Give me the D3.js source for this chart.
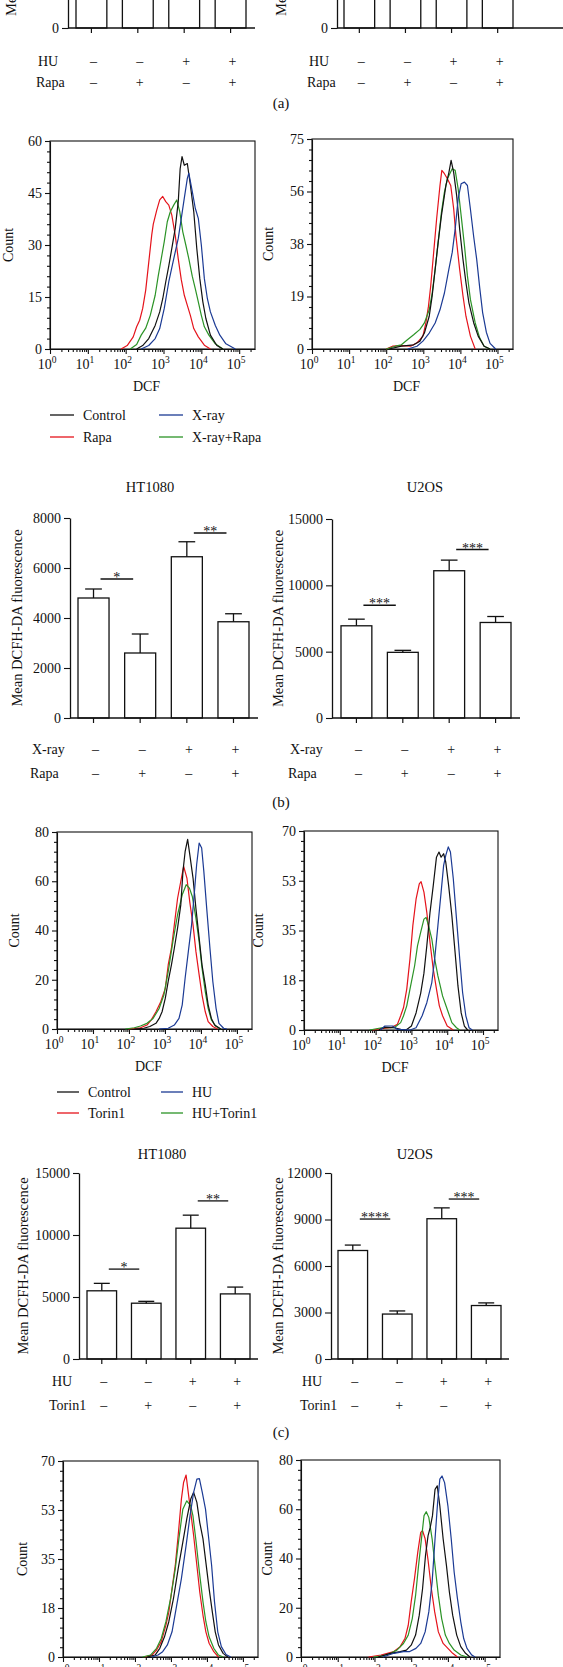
<!DOCTYPE html>
<html><head><meta charset="utf-8">
<script src="https://cdn.jsdelivr.net/npm/d3@7/dist/d3.min.js"></script>
<style>
body{margin:0;background:#fff;}
svg{display:block;}
text{font-family:"Liberation Serif","Times New Roman",serif;fill:#111;}
</style></head><body>
<svg id="fig" width="563" height="1667"></svg>
<script>
// ---------------- DATA ----------------
const categories = ["g1","g2","g3","g4"];
const signsA1 = ["–","–","+","+"];   // HU / X-ray rows
const signsA2 = ["–","+","–","+"];   // Rapa / Torin1 rows

// (a) bar charts (tops cropped off in the reference)
const aHT_mean = [4500, 2800, 6200, 3600];
const aU2_mean = [7000, 4800, 11000, 7000];

// (b) bar charts
const bHT_mean = [4800, 2600, 6450, 3850];
const bHT_err  = [360, 760, 600, 320];
const bU2_mean = [6950, 4950, 11100, 7200];
const bU2_err  = [500, 150, 800, 450];
const bHT_sig  = [[0,1,5560,"*"],[2,3,7400,"**"]];
const bU2_sig  = [[0,1,8500,"***"],[2,3,12700,"***"]];

// (c) bar charts
const cHT_mean = [5500, 4500, 10550, 5250];
const cHT_err  = [600, 150, 1050, 550];
const cU2_mean = [7000, 2900, 9050, 3450];
const cU2_err  = [350, 200, 700, 170];
const cHT_sig  = [[0,1,7250,"*"],[2,3,12750,"**"]];
const cU2_sig  = [[0,1,9030,"****"],[2,3,10320,"***"]];

// legends
const legendB = ["Control","Rapa","X-ray","X-ray+Rapa"];
const legendC = ["Control","Torin1","HU","HU+Torin1"];

// histograms: [log10(DCF), count]
const bL_red = [[1.88,0],[2.04,1],[2.2,3.5],[2.29,6.4],[2.37,8.3],[2.45,11.7],[2.53,17],[2.61,25],[2.69,33],[2.73,36],[2.82,40],[2.9,43],[2.98,44],[3.06,42.5],[3.14,41.5],[3.22,38.6],[3.31,32.8],[3.39,26],[3.47,20],[3.55,15.5],[3.63,12.6],[3.71,9.7],[3.8,5.9],[3.92,3.5],[4.08,1.1],[4.24,0]];
const bL_green = [[2.12,0],[2.29,1.3],[2.41,4],[2.53,6],[2.65,9.7],[2.78,15.5],[2.86,21],[2.94,26],[3.02,31],[3.1,36.7],[3.18,39.6],[3.27,41.5],[3.35,43],[3.43,39.6],[3.51,33.8],[3.59,30],[3.67,26],[3.76,21],[3.84,17.4],[3.92,13.6],[4.0,9.7],[4.08,6.4],[4.2,4],[4.37,1.5],[4.57,0]];
const bL_black = [[2.29,0],[2.45,1],[2.61,3],[2.78,6.8],[2.9,10.7],[2.98,14.5],[3.06,19.4],[3.14,24],[3.22,29],[3.31,34.8],[3.39,42.5],[3.44,52],[3.49,55.5],[3.55,53],[3.63,53.5],[3.71,47.3],[3.8,39.6],[3.88,29],[3.96,20.3],[4.04,13.6],[4.12,8.8],[4.24,4],[4.41,1],[4.57,0]];
const bL_blue = [[2.41,0],[2.61,1],[2.78,3],[2.9,5.9],[3.02,11.7],[3.14,19.4],[3.27,26],[3.39,31.9],[3.47,37.7],[3.55,43.5],[3.63,49.2],[3.67,50.7],[3.76,45.5],[3.84,40.6],[3.92,37.7],[4.0,30],[4.08,20.3],[4.16,14.5],[4.24,10.7],[4.37,6.8],[4.49,4],[4.65,1.5],[4.9,0]];

const bR_red = [[2.0,0],[2.17,1],[2.41,1.2],[2.66,1],[2.83,2.2],[2.99,4.6],[3.07,9.3],[3.14,15.3],[3.2,22.5],[3.28,34.5],[3.36,46.5],[3.45,58.4],[3.5,63.8],[3.57,62.6],[3.65,60.8],[3.74,58.4],[3.82,50],[3.88,40.5],[3.98,28.5],[4.07,19],[4.15,11.7],[4.27,4.6],[4.4,0]];
const bR_green = [[2.0,0],[2.25,1],[2.41,1.5],[2.58,3.4],[2.74,5.1],[2.91,7],[3.03,9.3],[3.16,14],[3.24,20],[3.32,28.5],[3.4,38],[3.49,48.9],[3.57,56],[3.65,60.8],[3.78,64.4],[3.86,63.8],[3.94,57.2],[4.02,47.7],[4.11,36.9],[4.19,26.1],[4.27,17.7],[4.4,9.3],[4.52,4],[4.64,1],[4.8,0]];
const bR_black = [[2.08,0],[2.41,1],[2.74,1.5],[2.91,2.8],[3.03,5.7],[3.16,11.7],[3.24,19],[3.32,28.5],[3.4,38],[3.49,47.7],[3.61,58.4],[3.69,63],[3.75,67.4],[3.82,63],[3.9,54.8],[3.98,42.9],[4.07,32],[4.15,23.7],[4.23,16.5],[4.36,9.3],[4.48,4.6],[4.64,1],[4.8,0]];
const bR_blue = [[2.58,0],[2.83,1],[2.99,2.8],[3.16,5.7],[3.32,9.3],[3.45,14],[3.57,20],[3.69,28.5],[3.78,34.5],[3.86,42.9],[3.94,53.7],[4.02,59],[4.11,59.6],[4.19,58.4],[4.27,50],[4.36,40],[4.44,32],[4.52,22],[4.6,13],[4.7,6],[4.8,2],[4.95,0]];

const cL_red = [[1.98,0],[2.32,0.5],[2.5,1.6],[2.62,3.7],[2.75,7],[2.88,11],[3.01,16.5],[3.09,26],[3.18,32.8],[3.26,42.3],[3.35,53],[3.44,60],[3.52,66],[3.61,61.3],[3.69,51.5],[3.78,42.3],[3.86,31.5],[3.95,22],[4.03,13.8],[4.12,7],[4.2,3],[4.33,1],[4.46,0]];
const cL_green = [[1.9,0],[2.15,0.5],[2.32,1.2],[2.5,2.3],[2.67,4.3],[2.84,8.4],[2.97,13.8],[3.09,23.3],[3.22,35.5],[3.35,46.4],[3.48,54.5],[3.59,58.6],[3.68,57.2],[3.76,53.8],[3.86,45],[3.95,35.5],[4.03,24.7],[4.12,15.2],[4.2,8.4],[4.29,3.7],[4.42,1],[4.55,0]];
const cL_black = [[2.15,0],[2.41,0.3],[2.58,1],[2.75,2.3],[2.84,4.3],[2.92,7],[3.01,12.5],[3.09,19.3],[3.18,26],[3.26,32.8],[3.35,41],[3.44,50.4],[3.5,64],[3.56,72],[3.63,77],[3.69,70.8],[3.78,61.3],[3.86,49],[3.95,36.9],[4.03,26],[4.12,17.9],[4.2,9.8],[4.29,4.3],[4.38,1.6],[4.55,0]];
const cL_blue = [[2.84,0],[3.09,0.3],[3.26,1.6],[3.39,4.3],[3.48,9.8],[3.56,20.6],[3.65,31.5],[3.74,42.3],[3.82,55.9],[3.88,66.7],[3.95,75.5],[4.02,73.5],[4.08,64],[4.16,49],[4.25,32.8],[4.33,19.3],[4.42,8.4],[4.5,2.3],[4.63,0.3],[4.72,0]];

const cR_red = [[1.91,0],[2.17,0.5],[2.43,0.8],[2.61,2],[2.7,5],[2.78,7.9],[2.87,14.4],[2.96,25],[3.04,36.7],[3.13,46],[3.22,51.4],[3.27,52.2],[3.35,48.5],[3.43,41.4],[3.52,30.8],[3.61,21.4],[3.7,14.4],[3.78,8.5],[3.87,5],[4.0,1.4],[4.17,0]];
const cR_green = [[1.83,0],[2.17,0.8],[2.52,0.8],[2.7,2.6],[2.78,5],[2.87,8.5],[2.96,14.4],[3.09,22.6],[3.17,29.6],[3.26,34.4],[3.35,39],[3.41,39.6],[3.48,36.7],[3.57,32],[3.65,25],[3.74,19],[3.87,12],[4.0,7.3],[4.13,2.6],[4.26,0.8],[4.35,0]];
const cR_black = [[2.09,0],[2.26,1],[2.52,0.8],[2.7,0.2],[2.85,0],[3.0,1.4],[3.13,6],[3.26,13],[3.35,20],[3.43,29.6],[3.52,41.4],[3.61,50.8],[3.7,60.8],[3.77,62.6],[3.83,60.8],[3.9,62],[3.96,59],[4.04,50.8],[4.13,40.2],[4.22,27.3],[4.3,15.5],[4.39,6],[4.48,1.4],[4.57,0]];
const cR_blue = [[2.13,0],[2.26,1.4],[2.48,1.4],[2.61,0.2],[2.96,0],[3.13,0.8],[3.3,5],[3.43,9.6],[3.57,16.7],[3.65,25],[3.74,36.7],[3.83,48.5],[3.9,57.9],[3.96,61.4],[4.03,64.4],[4.09,62.6],[4.17,53.2],[4.26,39],[4.35,25],[4.43,13.2],[4.52,5],[4.61,0.8],[4.7,0]];

const dL_red = [[2.26,0],[2.47,0.7],[2.6,2.5],[2.73,5.5],[2.86,11.4],[2.94,16],[3.03,24.4],[3.12,32.7],[3.2,43.4],[3.29,56.4],[3.35,62.3],[3.42,65],[3.48,58.8],[3.55,51.7],[3.63,43.4],[3.72,32.7],[3.8,23.2],[3.89,14.9],[3.97,9],[4.06,4.9],[4.19,1.9],[4.32,0]];
const dL_green = [[2.21,0],[2.43,0.7],[2.6,3.1],[2.73,6.6],[2.86,12.6],[2.99,20.9],[3.12,31.5],[3.22,42.2],[3.33,52.8],[3.44,55.8],[3.55,54],[3.61,50.5],[3.7,41],[3.79,30.3],[3.89,19.7],[3.97,12.6],[4.06,7.2],[4.19,3.1],[4.32,0.7],[4.45,0]];
const dL_black = [[2.34,0],[2.56,0.7],[2.69,3.1],[2.82,7.2],[2.94,12.6],[3.07,20.9],[3.2,31.5],[3.33,41],[3.44,49.3],[3.55,56.4],[3.63,58.8],[3.72,55.2],[3.8,48],[3.89,42.2],[3.97,33.8],[4.06,24.4],[4.15,16],[4.23,9],[4.32,4.3],[4.45,1.3],[4.58,0]];
const dL_blue = [[2.47,0],[2.64,0.7],[2.77,1.9],[2.9,4.3],[3.03,9],[3.16,18.5],[3.29,28],[3.42,39.8],[3.53,50.5],[3.63,58.8],[3.72,63.5],[3.79,63.7],[3.87,58.8],[3.96,52.8],[4.04,43.4],[4.13,32.7],[4.21,19.7],[4.3,9],[4.4,3.7],[4.53,0.9],[4.66,0]];

const dR_red = [[1.84,0],[2.18,0.8],[2.35,1.5],[2.53,2.2],[2.7,4.2],[2.83,7.5],[2.92,12.9],[3.0,22.4],[3.09,31.8],[3.18,42.6],[3.26,50.6],[3.31,51.3],[3.38,48],[3.46,39.3],[3.55,27.7],[3.64,18.3],[3.74,10.2],[3.87,5.5],[4.0,3.5],[4.13,1.5],[4.26,0]];
const dR_green = [[1.97,0],[2.23,0.5],[2.44,1.5],[2.61,2.8],[2.79,5.5],[2.92,8.9],[3.03,15.6],[3.12,25],[3.2,37],[3.29,49.3],[3.35,57.4],[3.41,59],[3.48,56.7],[3.57,48],[3.65,37],[3.74,25],[3.83,15.6],[3.93,8.9],[4.04,5.5],[4.17,2.8],[4.35,0.8],[4.52,0]];
const dR_black = [[2.1,0],[2.44,1.5],[2.7,2.2],[2.87,2.8],[3.0,4.8],[3.12,8.9],[3.22,17],[3.31,27.7],[3.39,41.2],[3.46,49.3],[3.52,52.7],[3.58,57.4],[3.65,68.1],[3.71,69.5],[3.78,61.4],[3.87,48],[3.96,37.2],[4.04,26.4],[4.13,17],[4.24,8.9],[4.35,4.2],[4.48,1.5],[4.6,0]];
const dR_blue = [[2.23,0],[2.53,1.5],[2.79,2.2],[2.96,2.2],[3.13,3.5],[3.26,5.5],[3.38,10.2],[3.48,18.3],[3.57,30.4],[3.65,48],[3.72,62.8],[3.78,72.2],[3.84,73.5],[3.91,70.8],[4.0,61.4],[4.09,48],[4.17,34.5],[4.26,23.7],[4.35,14.3],[4.43,7.5],[4.52,3.5],[4.65,0.8],[4.74,0]];

// ---------------- DRAWING ----------------
const COL = {black:"#111111", red:"#e5131b", blue:"#1b3a94", green:"#2b9326"};
const svg = d3.select("#fig");
const INK = "#111";
const FS = {tick:"14px", title:"14.5px", ylab:"14.5px", row:"14px", legend:"14px", panel:"15px", sup:"9.5px", count:"14px", star:"14px"};

function styleAxis(g){
  g.selectAll("path,line").attr("stroke",INK).attr("stroke-width",1.1);
  g.selectAll("text").attr("fill",INK).style("font-family",'"Liberation Serif","Times New Roman",serif');
}

function histogram(c){
  const g = svg.append("g");
  const x = d3.scaleLog().domain([1, 262144]).range([c.x0, c.x1]);
  const y = d3.scaleLinear().domain([0, c.max]).range([c.yb, c.yt]);
  const step = c.max/4;
  const minorY = [];
  for(let i=0;i<4;i++) for(let k=1;k<5;k++) minorY.push(i*step + k*step/5);
  g.append("g").attr("transform",`translate(${c.x0},0)`)
    .call(d3.axisLeft(y).tickValues(minorY).tickSize(3).tickFormat("").tickSizeOuter(0))
    .call(styleAxis).select(".domain").remove();
  g.append("g").attr("transform",`translate(${c.x0},0)`)
    .call(d3.axisLeft(y).tickValues([0,1,2,3,4].map(i=>i*step)).tickSize(5).tickPadding(3).tickSizeOuter(0)
      .tickFormat(d=>Math.round(d)))
    .call(styleAxis)
    .call(a=>a.selectAll("text").style("font-size",FS.tick));
  const minorX = [];
  for(let k=0;k<=5;k++) for(let m=2;m<=9;m++){ const v=m*Math.pow(10,k); if(v<262144) minorX.push(v); }
  const decades = [1,10,100,1000,10000,100000];
  g.append("g").attr("transform",`translate(0,${c.yb})`)
    .call(d3.axisBottom(x).tickValues(minorX).tickSize(3).tickFormat("").tickSizeOuter(0))
    .call(styleAxis).select(".domain").remove();
  g.append("g").attr("transform",`translate(0,${c.yb})`)
    .call(d3.axisBottom(x).tickValues(decades).tickSize(5).tickFormat("").tickSizeOuter(0))
    .call(styleAxis);
  g.append("rect").attr("x",c.x0).attr("y",c.yt).attr("width",c.x1-c.x0).attr("height",c.yb-c.yt)
    .attr("fill","none").attr("stroke",INK).attr("stroke-width",1.1);
  decades.forEach((v,k)=>{
    const t = g.append("text").attr("x",x(v)-3).attr("y",c.yb+20).attr("text-anchor","middle").style("font-size",FS.tick);
    t.append("tspan").text("10");
    t.append("tspan").attr("dy",-6).style("font-size",FS.sup).text(k);
  });
  const line = d3.line().x(d=>x(Math.pow(10,d[0]))).y(d=>y(d[1]));
  c.series.forEach(s=>{
    g.append("path").datum(s.data).attr("d",line).attr("fill","none")
      .attr("stroke",s.color).attr("stroke-width",1.2).attr("stroke-linejoin","round");
  });
  g.append("text").attr("transform",`translate(${c.countX},${(c.yt+c.yb)/2}) rotate(-90)`)
    .attr("text-anchor","middle").style("font-size",FS.count).text("Count");
  if(!c.noXTitle) g.append("text").attr("x",(c.x0+c.x1)/2-6).attr("y",c.yb+42).attr("text-anchor","middle")
    .style("font-size",FS.count).text("DCF");
}

function barChart(c){
  const g = svg.append("g");
  const y = d3.scaleLinear().domain([0,c.max]).range([c.y0, c.yTop]);
  const x = d3.scaleBand().domain(categories).range([c.bandL, c.bandR]).paddingInner(0.335).paddingOuter(0);
  const bw = x.bandwidth();
  const cx = i => x(categories[i]) + bw/2;
  g.selectAll("rect.bar").data(c.means).join("rect")
    .attr("x",(d,i)=>x(categories[i])).attr("y",d=>y(d))
    .attr("width",bw).attr("height",d=>c.y0-y(d))
    .attr("fill","#fff").attr("stroke",INK).attr("stroke-width",1.3);
  if(c.errs){
    c.means.forEach((m,i)=>{
      g.append("line").attr("x1",cx(i)).attr("x2",cx(i)).attr("y1",y(m)).attr("y2",y(m+c.errs[i]))
        .attr("stroke",INK).attr("stroke-width",1.3);
      g.append("line").attr("x1",cx(i)-bw*0.27).attr("x2",cx(i)+bw*0.27).attr("y1",y(m+c.errs[i])).attr("y2",y(m+c.errs[i]))
        .attr("stroke",INK).attr("stroke-width",1.3);
    });
  }
  (c.sig||[]).forEach(s=>{
    const [i,j,v,lab] = s;
    g.append("line").attr("x1",cx(i)+7).attr("x2",cx(j)-7).attr("y1",y(v)).attr("y2",y(v))
      .attr("stroke",INK).attr("stroke-width",1.3);
    g.append("text").attr("x",(cx(i)+cx(j))/2).attr("y",y(v)+3).attr("text-anchor","middle")
      .style("font-size",FS.star).text(lab);
  });
  const tv = c.tickValues || d3.range(0,c.max+1,c.tickStep);
  g.append("g").attr("transform",`translate(${c.axisX},0)`)
    .call(d3.axisLeft(y).tickValues(tv).tickSize(6).tickPadding(3).tickSizeOuter(0).tickFormat(d3.format("d")))
    .call(styleAxis)
    .call(a=>a.selectAll("text").style("font-size",FS.tick))
    .call(a=>a.select(".domain").attr("stroke-width",1.3));
  g.append("line").attr("x1",c.axisX).attr("x2",c.baseEnd).attr("y1",c.y0).attr("y2",c.y0)
    .attr("stroke",INK).attr("stroke-width",1.3);
  categories.forEach((k,i)=>{
    g.append("line").attr("x1",cx(i)).attr("x2",cx(i)).attr("y1",c.y0).attr("y2",c.y0+5)
      .attr("stroke",INK).attr("stroke-width",1.2);
  });
  if(c.title) g.append("text").attr("x",c.titleX).attr("y",c.titleY).attr("text-anchor","middle")
    .style("font-size",FS.title).text(c.title);
  g.append("text").attr("transform",`translate(${c.ylabX},${c.ylabY!==undefined?c.ylabY:(c.y0+c.yTop)/2}) rotate(-90)`)
    .attr("text-anchor",c.ylabAnchor||"middle").attr("dy","0.35em").style("font-size",FS.ylab).text("Mean DCFH-DA fluorescence");
  c.rows.forEach(r=>{
    g.append("text").attr("x",r.x).attr("y",r.y).style("font-size",FS.row).text(r.label);
    r.signs.forEach((s,i)=>{
      g.append("text").attr("x",cx(i)+2).attr("y",r.y).attr("text-anchor","middle").style("font-size",FS.row).text(s);
    });
  });
}

function legend(items){
  items.forEach(it=>{
    svg.append("line").attr("x1",it.x).attr("x2",it.x+it.len).attr("y1",it.y).attr("y2",it.y)
      .attr("stroke",it.color).attr("stroke-width",1.3);
    svg.append("text").attr("x",it.x+it.len+9).attr("y",it.y+5).style("font-size",FS.legend).text(it.label);
  });
}

function panelLabel(t,y){
  svg.append("text").attr("x",281).attr("y",y).attr("text-anchor","middle").style("font-size",FS.panel).text(t);
}

// ---- (a) : only the lower edge of these two charts is in the frame ----
barChart({axisX:68, y0:28, yTop:-174, max:8000, tickValues:[0], bandL:76, bandR:246, baseEnd:255,
  means:aHT_mean, ylabX:11, ylabY:16, ylabAnchor:"start",
  rows:[{label:"HU",x:38,y:66,signs:signsA1},{label:"Rapa",x:36,y:87,signs:signsA2}]});
barChart({axisX:337, y0:28, yTop:-174, max:15000, tickValues:[0], bandL:344, bandR:513, baseEnd:563,
  means:aU2_mean, ylabX:281, ylabY:16, ylabAnchor:"start",
  rows:[{label:"HU",x:309,y:66,signs:signsA1},{label:"Rapa",x:307,y:87,signs:signsA2}]});
panelLabel("(a)",108);

// ---- (b) ----
histogram({x0:50,x1:255,yt:141,yb:349,max:60,countX:13,
  series:[{data:bL_red,color:COL.red},{data:bL_green,color:COL.green},{data:bL_black,color:COL.black},{data:bL_blue,color:COL.blue}]});
histogram({x0:312,x1:513,yt:139,yb:349,max:75,countX:273,
  series:[{data:bR_red,color:COL.red},{data:bR_green,color:COL.green},{data:bR_black,color:COL.black},{data:bR_blue,color:COL.blue}]});
legend([
  {label:legendB[0],color:COL.black,x:50,y:415,len:24},
  {label:legendB[1],color:COL.red,x:50,y:437,len:24},
  {label:legendB[2],color:COL.blue,x:159,y:415,len:24},
  {label:legendB[3],color:COL.green,x:159,y:437,len:24}]);
barChart({axisX:70, y0:718, yTop:518, max:8000, tickStep:2000, bandL:78, bandR:249, baseEnd:258,
  means:bHT_mean, errs:bHT_err, sig:bHT_sig, title:"HT1080", titleX:150, titleY:492, ylabX:17,
  rows:[{label:"X-ray",x:32,y:754,signs:signsA1},{label:"Rapa",x:30,y:778,signs:signsA2}]});
barChart({axisX:332, y0:718, yTop:519, max:15000, tickStep:5000, bandL:341, bandR:511, baseEnd:520,
  means:bU2_mean, errs:bU2_err, sig:bU2_sig, title:"U2OS", titleX:425, titleY:492, ylabX:278,
  rows:[{label:"X-ray",x:290,y:754,signs:signsA1},{label:"Rapa",x:288,y:778,signs:signsA2}]});
panelLabel("(b)",807);

// ---- (c) ----
histogram({x0:57,x1:252,yt:832,yb:1029,max:80,countX:19,
  series:[{data:cL_red,color:COL.red},{data:cL_green,color:COL.green},{data:cL_black,color:COL.black},{data:cL_blue,color:COL.blue}]});
histogram({x0:304,x1:498,yt:831,yb:1030,max:70,countX:263,
  series:[{data:cR_red,color:COL.red},{data:cR_green,color:COL.green},{data:cR_black,color:COL.black},{data:cR_blue,color:COL.blue}]});
legend([
  {label:legendC[0],color:COL.black,x:57,y:1092,len:22},
  {label:legendC[1],color:COL.red,x:57,y:1113,len:22},
  {label:legendC[2],color:COL.blue,x:161,y:1092,len:22},
  {label:legendC[3],color:COL.green,x:161,y:1113,len:22}]);
barChart({axisX:79, y0:1359, yTop:1173, max:15000, tickStep:5000, bandL:87, bandR:250, baseEnd:258,
  means:cHT_mean, errs:cHT_err, sig:cHT_sig, title:"HT1080", titleX:162, titleY:1159, ylabX:23,
  rows:[{label:"HU",x:52,y:1386,signs:signsA1},{label:"Torin1",x:49,y:1410,signs:signsA2}]});
barChart({axisX:331, y0:1359, yTop:1173, max:12000, tickStep:3000, bandL:338, bandR:501, baseEnd:509,
  means:cU2_mean, errs:cU2_err, sig:cU2_sig, title:"U2OS", titleX:415, titleY:1159, ylabX:278,
  rows:[{label:"HU",x:302,y:1386,signs:signsA1},{label:"Torin1",x:300,y:1410,signs:signsA2}]});
panelLabel("(c)",1437);

// ---- (d) : x-axis labels run off the bottom edge, as in the reference ----
histogram({x0:63,x1:258,yt:1461,yb:1657,max:70,countX:27,noXTitle:true,
  series:[{data:dL_red,color:COL.red},{data:dL_green,color:COL.green},{data:dL_black,color:COL.black},{data:dL_blue,color:COL.blue}]});
histogram({x0:301,x1:500,yt:1460,yb:1657,max:80,countX:272,noXTitle:true,
  series:[{data:dR_red,color:COL.red},{data:dR_green,color:COL.green},{data:dR_black,color:COL.black},{data:dR_blue,color:COL.blue}]});
</script></body></html>
